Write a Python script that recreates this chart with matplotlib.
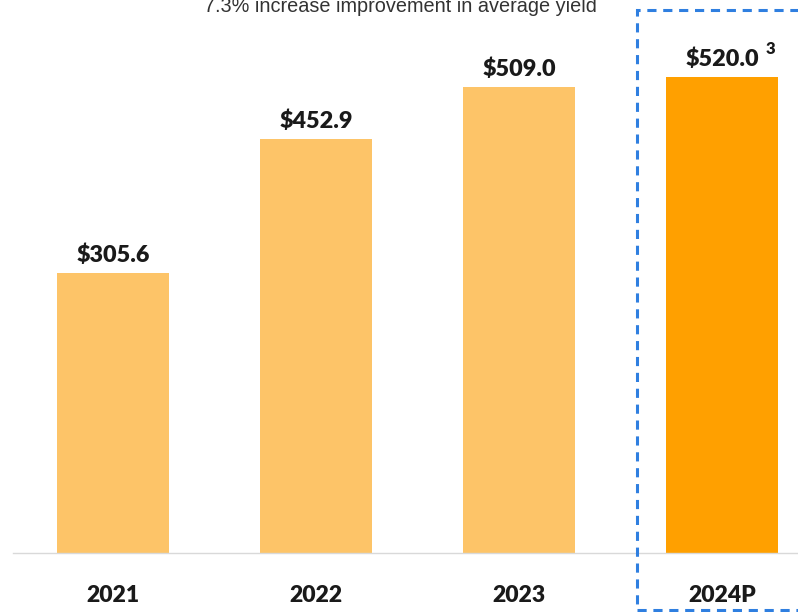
import matplotlib.pyplot as plt
from matplotlib.patches import Rectangle

# Revenue by year (USD millions)
years = ["2021", "2022", "2023", "2024P"]
values = [305.6, 452.9, 509.0, 520.0]
labels = ["$305.6", "$452.9", "$509.0", "$520.0"]
colors = ["#FDC468", "#FDC468", "#FDC468", "#FFA000"]
subtitle = "7.3% increase improvement in average yield"

W, H = 798, 612
fig = plt.figure(figsize=(W / 100, H / 100), dpi=100)
ax = fig.add_axes([13 / W, 59 / H, (W - 13) / W, 553 / H])

x = list(range(len(years)))
ax.bar(x, values, width=0.552, color=colors, zorder=2)
ax.set_xlim(-0.4926, 3.374)
ax.set_ylim(0, 604.5)

for xi, v, lab in zip(x, values, labels):
    ax.annotate(lab, (xi, v), xytext=(0, 12.8), textcoords="offset points",
                ha="center", va="center", fontsize=16.8, fontweight="heavy",
                family="Lato", color="#1a1a1a")

# footnote marker on the projected year
ax.annotate("3", (3, values[3]), xytext=(35, 20.5), textcoords="offset points",
            ha="center", va="center", fontsize=12, fontweight="heavy",
            family="Lato", color="#1a1a1a")

ax.set_xticks(x)
ax.set_xticklabels(years, fontsize=16.5, fontweight="heavy", family="Lato",
                   color="#1a1a1a")
ax.tick_params(axis="x", length=0, pad=23)
ax.set_yticks([])
for s in ["top", "left", "right"]:
    ax.spines[s].set_visible(False)
ax.spines["bottom"].set_color("#d9d9d9")
ax.spines["bottom"].set_linewidth(1.0)

fig.text(400 / W, 1 - 7 / H, subtitle, ha="center", va="center",
         fontsize=14.3, family="Liberation Sans", color="#333333")

# dashed highlight around the projection
box = Rectangle((637 / W, 1 - 610 / H), (820 - 637) / W, 600 / H,
                transform=fig.transFigure, fill=False, edgecolor="#2F7FE0",
                linewidth=2.2, linestyle=(0, (3, 2.2)), clip_on=False)
fig.patches.append(box)

fig.savefig("out.png", dpi=100)
